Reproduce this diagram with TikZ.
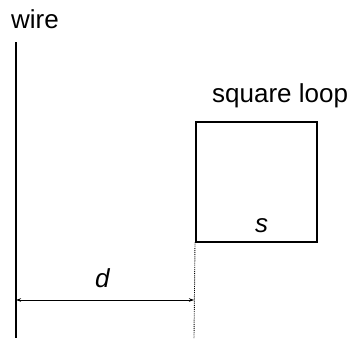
\documentclass[tikz,border=0pt]{standalone}
\usepackage{fontspec}
\setmainfont{Liberation Sans}
\usetikzlibrary{arrows.meta,positioning}

\tikzset{
  lbl/.style={font=\fontsize{26}{30}\selectfont,inner sep=0pt,anchor=base west},
  sym/.style={font=\fontsize{26}{30}\selectfont\itshape,inner sep=0pt,anchor=base west},
  thickline/.style={line width=1.5pt}
}

\begin{document}
\begin{tikzpicture}[x=1pt,y=-1pt]
  \useasboundingbox (0,0) rectangle (351,340);
  % wire
  \coordinate (wiretop) at (16,42);
  \coordinate (wirebot) at (16,338);
  \draw[thickline] (wiretop) -- (wirebot);
  \node[lbl] (wirelabel) at (11,28) {wire};
  % square loop
  \node[draw,thickline,minimum width=121pt,minimum height=120pt,inner sep=0pt,anchor=north west] (loop) at (195,121) {};
  \node[lbl] (looplabel) at (212,102) {square loop};
  \node[sym] (side) at (255,232) {s};
  % distance d
  \coordinate (dottop) at (loop.south west);
  \coordinate (dotbot) at (194,338);
  \draw[densely dotted,line width=0.9pt] (dottop) -- (dotbot);
  \coordinate (arrowl) at (16,300);
  \coordinate (arrowr) at (194,300);
  \draw[{Stealth[length=5pt,width=3.5pt]}-{Stealth[length=5pt,width=3.5pt]},line width=0.8pt] (arrowl) -- (arrowr);
  \node[sym] (dist) at (95,287) {d};
\end{tikzpicture}
\end{document}
